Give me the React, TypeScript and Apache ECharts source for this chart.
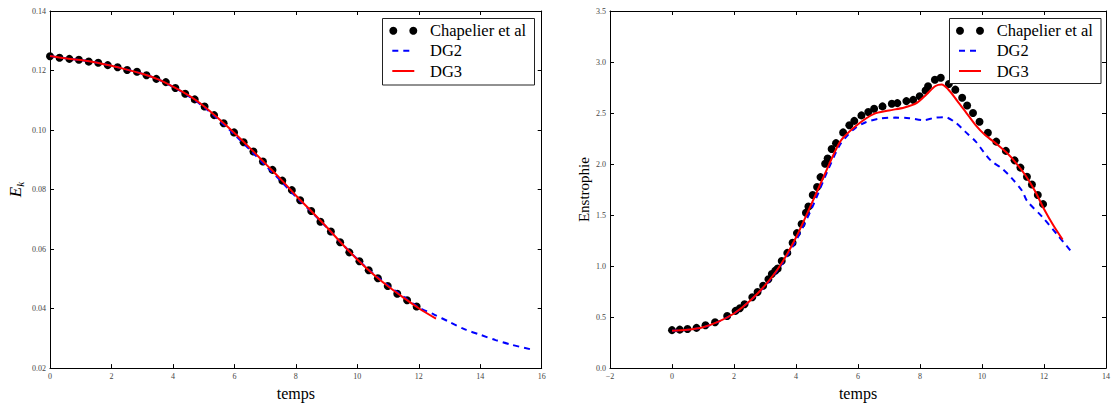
import React, { useEffect, useRef } from "react";
import * as echarts from "echarts";

// ---- Left panel: kinetic energy ----
const leftChapT = [0, 0.31, 0.63, 0.94, 1.26, 1.57, 1.88, 2.2, 2.51, 2.83, 3.14, 3.46, 3.77, 4.08, 4.4, 4.71, 5.03, 5.34, 5.65, 5.99, 6.3, 6.62, 6.93, 7.24, 7.56, 7.87, 8.14, 8.5, 8.8, 9.14, 9.44, 9.74, 10.07, 10.37, 10.67, 10.99, 11.3, 11.62, 11.93];
const leftChapV = [0.1248, 0.1243, 0.1239, 0.1236, 0.123, 0.1226, 0.1218, 0.1211, 0.1202, 0.1196, 0.1184, 0.1172, 0.1161, 0.1141, 0.1122, 0.1103, 0.1079, 0.105, 0.1023, 0.0992, 0.0959, 0.0928, 0.0894, 0.0866, 0.083, 0.0798, 0.0764, 0.0728, 0.0692, 0.0659, 0.0623, 0.0589, 0.0559, 0.0529, 0.0502, 0.0476, 0.045, 0.0428, 0.0407];
const leftDG2T = [0, 0.5, 1, 1.5, 2, 2.5, 3, 3.5, 4, 4.5, 5, 5.5, 6, 6.5, 7, 7.5, 8, 8.5, 9, 9.5, 10, 10.5, 11, 11.5, 12, 12.5, 13, 13.5, 14, 14.5, 15, 15.69];
const leftDG2V = [0.1249, 0.1241, 0.1235, 0.1227, 0.1216, 0.1203, 0.1189, 0.1171, 0.1145, 0.1115, 0.1078, 0.1033, 0.0985, 0.0934, 0.0882, 0.083, 0.0776, 0.0726, 0.0673, 0.0618, 0.0566, 0.0519, 0.0478, 0.044, 0.0404, 0.038, 0.0355, 0.033, 0.0312, 0.0294, 0.0279, 0.0262];
const leftDG3T = [0, 0.5, 1, 1.5, 2, 2.5, 3, 3.5, 4, 4.5, 5, 5.5, 6, 6.5, 7, 7.5, 8, 8.5, 9, 9.5, 10, 10.5, 11, 11.5, 12, 12.56];
const leftDG3V = [0.1249, 0.1241, 0.1235, 0.1227, 0.1216, 0.1203, 0.1189, 0.1171, 0.1146, 0.1117, 0.1081, 0.1037, 0.099, 0.094, 0.0888, 0.0836, 0.078, 0.0728, 0.0674, 0.0618, 0.0565, 0.0517, 0.0475, 0.0437, 0.0401, 0.0366];

// ---- Right panel: enstrophy ----
const rightChapT = [0, 0.25, 0.5, 0.79, 1.08, 1.39, 1.78, 2.05, 2.19, 2.34, 2.59, 2.76, 2.94, 3.11, 3.22, 3.33, 3.41, 3.54, 3.72, 3.89, 4.03, 4.18, 4.32, 4.4, 4.54, 4.68, 4.79, 4.94, 5.02, 5.15, 5.29, 5.52, 5.72, 5.88, 6.11, 6.33, 6.52, 6.79, 7.09, 7.27, 7.56, 7.78, 7.99, 8.18, 8.26, 8.48, 8.67, 8.93, 9.14, 9.36, 9.52, 9.71, 9.92, 10.19, 10.46, 10.77, 11.05, 11.24, 11.45, 11.61, 11.8, 11.97];
const rightChapV = [0.372, 0.377, 0.384, 0.394, 0.42, 0.449, 0.51, 0.561, 0.587, 0.626, 0.694, 0.745, 0.807, 0.871, 0.923, 0.955, 0.977, 1.049, 1.129, 1.229, 1.323, 1.413, 1.523, 1.584, 1.697, 1.775, 1.872, 2.003, 2.055, 2.148, 2.205, 2.31, 2.381, 2.423, 2.477, 2.51, 2.542, 2.565, 2.591, 2.597, 2.617, 2.629, 2.665, 2.72, 2.762, 2.826, 2.845, 2.784, 2.729, 2.649, 2.574, 2.501, 2.414, 2.307, 2.22, 2.129, 2.036, 1.965, 1.875, 1.8, 1.697, 1.607];
const rightDG2T = [0, 0.5, 1, 1.5, 2, 2.5, 3, 3.5, 4, 4.5, 5, 5.4, 5.6, 5.9, 6.25, 6.7, 7.2, 7.65, 8.1, 8.5, 8.8, 9.15, 9.45, 9.8, 10.05, 10.3, 10.65, 10.95, 11.3, 11.45, 11.95, 12.45, 12.9];
const rightDG2V = [0.365, 0.375, 0.4, 0.455, 0.535, 0.655, 0.805, 1.0, 1.25, 1.56, 1.92, 2.18, 2.26, 2.35, 2.41, 2.445, 2.455, 2.45, 2.43, 2.455, 2.46, 2.405, 2.32, 2.22, 2.12, 2.03, 1.955, 1.865, 1.735, 1.64, 1.48, 1.3, 1.135];
const rightDG3T = [0, 0.5, 1, 1.5, 2, 2.5, 3, 3.5, 4, 4.5, 5, 5.3, 5.5, 6, 6.5, 7, 7.5, 7.9, 8.2, 8.5, 8.7, 8.9, 9.2, 9.5, 9.8, 10.1, 10.5, 10.8, 11.1, 11.4, 11.7, 12.0, 12.3, 12.6];
const rightDG3V = [0.365, 0.375, 0.4, 0.455, 0.535, 0.655, 0.81, 1.01, 1.28, 1.61, 1.95, 2.15, 2.25, 2.39, 2.49, 2.525, 2.555, 2.6, 2.68, 2.765, 2.78, 2.735, 2.62, 2.5, 2.38, 2.285, 2.19, 2.11, 2.01, 1.89, 1.74, 1.56, 1.4, 1.26];

const legendLabels = ["Chapelier et al", "DG2", "DG3"];
const xTitle = "temps";

const SERIF = "'Liberation Serif', 'DejaVu Serif', serif";

const zip = (t: number[], v: number[]) => t.map((x, i) => [x, v[i]]);

export default function App() {
  const ref = useRef<HTMLDivElement>(null);
  useEffect(() => {
    if (!ref.current) return;
    const chart = echarts.init(ref.current, undefined, { renderer: "svg" });
    const tickLabel = { fontFamily: SERIF, fontSize: 8, color: "#444", margin: 4 };
    const axisLine = { show: true, onZero: false, lineStyle: { color: "#000", width: 1 } };
    const tickIn = { show: true, inside: true, length: 4, lineStyle: { color: "#000", width: 1 } };

    const mkX = (grid: number, min: number, max: number, pos: string, showLabel: boolean, name?: string) => ({
      type: "value", gridIndex: grid, min, max, interval: 2, position: pos,
      axisLine, axisTick: tickIn, splitLine: { show: false },
      axisLabel: { ...tickLabel, show: showLabel, formatter: (v: number) => (v < 0 ? "\u2212" + Math.abs(v) : String(v)) },
      name: name, nameLocation: "middle", nameGap: 15,
      nameTextStyle: { fontFamily: SERIF, fontSize: 16, color: "#000" },
    });
    const mkY = (grid: number, min: number, max: number, interval: number, digits: number, pos: string, showLabel: boolean, name?: string, gap?: number, rich?: any) => ({
      type: "value", gridIndex: grid, min, max, interval, position: pos,
      axisLine, axisTick: tickIn, splitLine: { show: false },
      axisLabel: { ...tickLabel, show: showLabel, formatter: (v: number) => v.toFixed(digits) },
      name: name, nameLocation: "middle", nameGap: gap, nameRotate: 90,
      nameTextStyle: { fontFamily: SERIF, fontSize: 15, color: "#000", rich },
    });

    const dotSeries = (xi: number, yi: number, data: number[][]) => ({
      type: "scatter", xAxisIndex: xi, yAxisIndex: yi, data, symbol: "circle", symbolSize: 8,
      itemStyle: { color: "#000", opacity: 1 }, z: 2, silent: true,
    });
    const lineSeries = (xi: number, yi: number, data: number[][], color: string, dashed: boolean, z: number) => ({
      type: "line", xAxisIndex: xi, yAxisIndex: yi, data, showSymbol: false, smooth: 0.3,
      lineStyle: { color, width: 2, type: dashed ? [6, 5] : "solid" }, z, silent: true,
    });

    const legend = (x0: number, y0: number, w: number, h: number, sx: number, tx: number) => {
      const rows = [y0 + 12.2, y0 + 32.2, y0 + 52.5];
      return [
        { type: "rect", z: 100, shape: { x: x0, y: y0, width: w, height: h }, style: { fill: "#fff", stroke: "#222", lineWidth: 1 } },
        { type: "circle", z: 101, shape: { cx: sx + 1, cy: rows[0], r: 4 }, style: { fill: "#000" } },
        { type: "circle", z: 101, shape: { cx: sx + 21, cy: rows[0], r: 4 }, style: { fill: "#000" } },
        { type: "line", z: 101, shape: { x1: sx, y1: rows[1], x2: sx + 21, y2: rows[1] }, style: { stroke: "#0000ff", lineWidth: 2, lineDash: [6, 5] } },
        { type: "line", z: 101, shape: { x1: sx, y1: rows[2], x2: sx + 22, y2: rows[2] }, style: { stroke: "#ff0000", lineWidth: 2 } },
        ...legendLabels.map((t, i) => ({
          type: "text", z: 101, x: tx, y: rows[i],
          style: { text: t, fontFamily: SERIF, fontSize: 16.5, fill: "#000", verticalAlign: "middle", align: "left" },
        })),
      ];
    };

    chart.setOption({
      animation: false,
      backgroundColor: "#fff",
      grid: [
        { left: 50, top: 11, width: 491.7, height: 359.7, show: false },
        { left: 610, top: 11, width: 497.7, height: 361.7, show: false },
      ],
      xAxis: [
        mkX(0, 0, 16, "bottom", true, xTitle),
        mkX(0, 0, 16, "top", false),
        mkX(1, -2, 14, "bottom", true, xTitle),
        mkX(1, -2, 14, "top", false),
      ],
      yAxis: [
        mkY(0, 0.02, 0.14, 0.02, 2, "left", true, "{i|E}{s|k}", 25, {
          i: { fontFamily: SERIF, fontStyle: "italic", fontSize: 17, color: "#000" },
          s: { fontFamily: SERIF, fontStyle: "italic", fontSize: 11, color: "#000", verticalAlign: "bottom", padding: [8, 0, 0, 0] },
        }),
        mkY(0, 0.02, 0.14, 0.02, 2, "right", false),
        mkY(1, 0, 3.5, 0.5, 1, "left", true, "Enstrophie", 19),
        mkY(1, 0, 3.5, 0.5, 1, "right", false),
      ],
      series: [
        dotSeries(0, 0, zip(leftChapT, leftChapV)),
        lineSeries(0, 0, zip(leftDG2T, leftDG2V), "#0000ff", true, 3),
        lineSeries(0, 0, zip(leftDG3T, leftDG3V), "#ff0000", false, 4),
        dotSeries(2, 2, zip(rightChapT, rightChapV)),
        lineSeries(2, 2, zip(rightDG2T, rightDG2V), "#0000ff", true, 3),
        lineSeries(2, 2, zip(rightDG3T, rightDG3V), "#ff0000", false, 4),
      ],
      graphic: [
        ...legend(382.5, 18.5, 152, 66.5, 392.3, 430),
        ...legend(949.5, 18.5, 151.5, 65, 959, 996.7),
      ],
    });
    return () => chart.dispose();
  }, []);
  return <div ref={ref} style={{ position: "fixed", left: 0, top: 0, width: 1113, height: 406 }} />;
}
